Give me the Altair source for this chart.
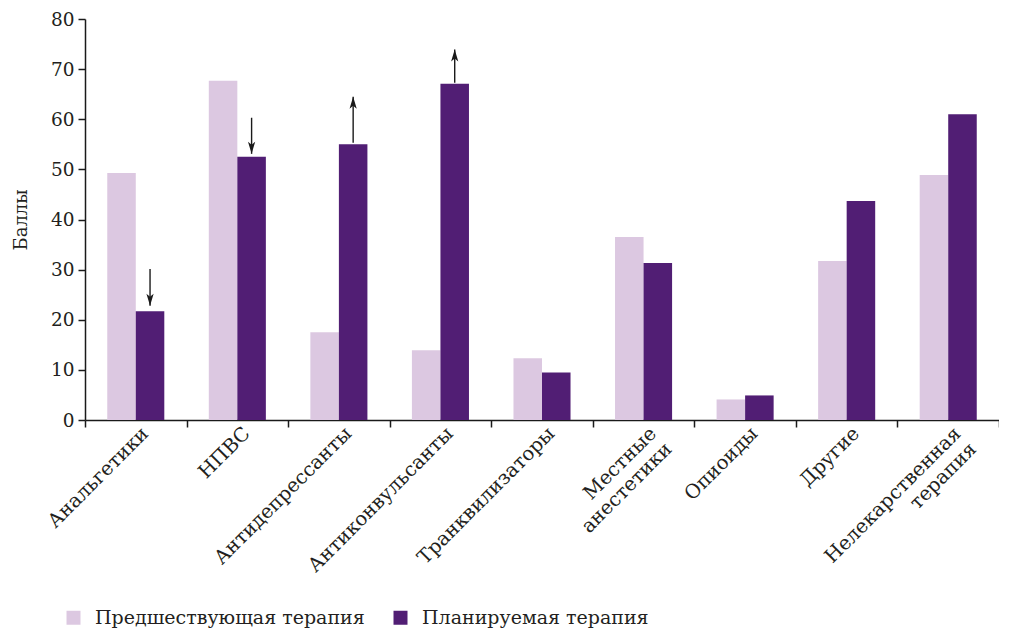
import altair as alt
import pandas as pd

categories = ["Анальгетики", "НПВС", "Антидепрессанты", "Антиконвульсанты",
              "Транквилизаторы", "Местные\nанестетики", "Опиоиды", "Другие",
              "Нелекарственная\nтерапия"]
series = ["Предшествующая терапия", "Планируемая терапия"]
prev = [49.3, 67.7, 17.5, 13.9, 12.3, 36.5, 4.1, 31.7, 48.9]
plan = [21.7, 52.5, 55.0, 67.1, 9.5, 31.3, 4.9, 43.7, 61.0]

arrow_cats = ["Анальгетики", "НПВС", "Антидепрессанты", "Антиконвульсанты"]
arrow_from = [30.1, 60.3, 55.3, 67.3]
arrow_to = [22.8, 53.1, 64.5, 73.9]
arrow_dir = [180, 180, 0, 0]

colors = ["#dcc8e1", "#511e74"]
FONT = "DejaVu Serif"
TXT = "#231f20"

rows = []
for c, a, b in zip(categories, prev, plan):
    rows.append({"cat": c, "series": series[0], "value": a})
    rows.append({"cat": c, "series": series[1], "value": b})
bars_df = pd.DataFrame(rows)

arrows_df = pd.DataFrame({
    "cat": arrow_cats,
    "series": [series[1]] * len(arrow_cats),
    "y0": arrow_from,
    "y1": arrow_to,
    "ang": arrow_dir,
})

x_enc = alt.X("cat:N", sort=categories,
              scale=alt.Scale(paddingInner=0, paddingOuter=0),
              axis=alt.Axis(title=None, tickBand="extent", labelAngle=-45,
                            labelAlign="right", labelBaseline="middle",
                            labelExpr="split(datum.label, '\\n')",
                            labelFontSize=19.5, labelPadding=3, labelLineHeight=22,
                            labelOffset=9,
                            tickSize=7, labelColor=TXT, labelLimit=0))
xo_enc = alt.XOffset("series:N", sort=series,
                     scale=alt.Scale(domain=series, paddingInner=0, paddingOuter=0.78))
y_scale = alt.Scale(domain=[0, 80])

bars = alt.Chart(bars_df).mark_bar().encode(
    x=x_enc,
    xOffset=xo_enc,
    y=alt.Y("value:Q", scale=y_scale,
            axis=alt.Axis(title="Баллы", values=list(range(0, 81, 10)),
                          grid=False, tickSize=7, labelFontSize=18.5,
                          titleFontSize=18, titleFontWeight="normal",
                          labelColor=TXT, titleColor=TXT, titlePadding=20,
                          labelPadding=4)),
    color=alt.Color("series:N", sort=series,
                    scale=alt.Scale(domain=series, range=colors),
                    legend=alt.Legend(title=None, orient="none", direction="horizontal",
                                      legendX=-21, legendY=589,
                                      symbolType="square", symbolSize=196,
                                      symbolStrokeWidth=0, labelFontSize=19,
                                      labelFont=FONT, labelColor=TXT, labelLimit=0,
                                      labelOffset=12, columnPadding=26)),
)

rules = alt.Chart(arrows_df).mark_rule(color="#1a1a1a", strokeWidth=1.4).encode(
    x=alt.X("cat:N", sort=categories),
    xOffset=alt.XOffset("series:N", sort=series),
    y=alt.Y("y0:Q", scale=y_scale),
    y2="y1:Q",
)

heads = alt.Chart(arrows_df).mark_point(
    shape="M0,0 L0.6,2 L0,1.5 L-0.6,2 Z", filled=True, color="#1a1a1a",
    size=144, opacity=1, strokeWidth=0,
).encode(
    x=alt.X("cat:N", sort=categories),
    xOffset=alt.XOffset("series:N", sort=series),
    y=alt.Y("y1:Q", scale=y_scale),
    angle=alt.Angle("ang:Q", scale=None),
)

chart = alt.layer(bars, rules, heads).properties(
    width=914, height=401,
    autosize=alt.AutoSizeParams(type="none"),
    padding={"left": 77, "top": 11, "right": 0, "bottom": 209},
).configure_view(stroke=None).configure_axis(
    labelFont=FONT, titleFont=FONT, domainColor="#1a1a1a", tickColor="#1a1a1a",
    domainWidth=1.5, tickWidth=1.5,
)

chart.save("out.html", embed_options={"renderer": "svg", "actions": False})
